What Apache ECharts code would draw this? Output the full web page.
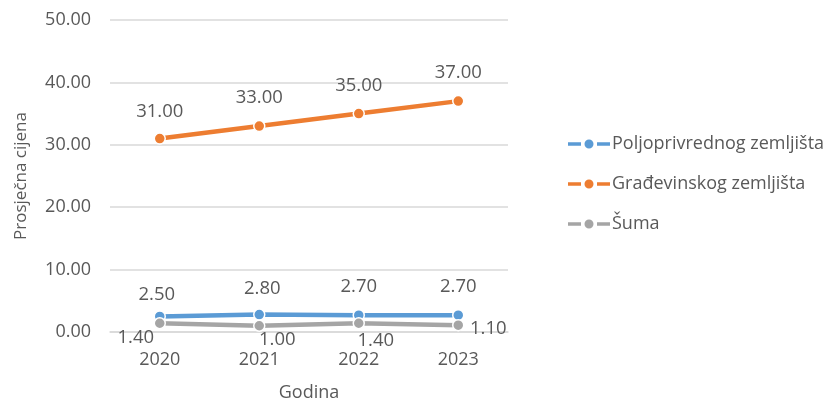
<!DOCTYPE html>
<html>
<head>
<meta charset="utf-8">
<script src="https://cdn.jsdelivr.net/npm/echarts@6/dist/echarts.min.js"></script>
<style>
  html, body { margin: 0; padding: 0; background: #fff; }
  #chart { width: 823px; height: 401px; }
</style>
</head>
<body>
<div id="chart"></div>
<script>
// Average land price by year
const years = ['2020', '2021', '2022', '2023'];
const poljoprivredno = [2.5, 2.8, 2.7, 2.7];
const gradjevinsko = [31, 33, 35, 37];
const suma = [1.4, 1.0, 1.4, 1.1];
const seriesNames = ['Poljoprivrednog zemljišta', 'Građevinskog zemljišta', 'Šuma'];
const colors = ['#5B9BD5', '#ED7D31', '#A5A5A5'];

// label placement (pixel offsets from each marker)
const labelOffsets = [
  [[-3, -22], [3, -26], [0, -28], [0, -28]],
  [[0, -27], [0, -28], [0, -28], [0, -28]],
  [[-24, 14], [18, 14], [17, 17], [30, 4]]
];

// legend glyph: dash, dot, dash
const legendIcon = 'path://M0,2.75h13v3.5h-13Z M16.5,4.5a4.5,4.5 0 1,0 9,0a4.5,4.5 0 1,0 -9,0Z M29,2.75h13v3.5h-13Z';

const font = 'Open Sans, Lato, sans-serif';
const textColor = '#595959';

function buildSeries(values, idx) {
  return {
    name: seriesNames[idx],
    type: 'line',
    data: values.map((v, i) => ({
      value: v,
      label: { offset: labelOffsets[idx][i] }
    })),
    symbol: 'circle',
    symbolSize: 11,
    lineStyle: { width: 4.5, color: colors[idx] },
    itemStyle: { color: colors[idx], borderColor: '#fff', borderWidth: 1.5 },
    label: {
      show: true,
      position: 'inside',
      color: textColor,
      fontFamily: font,
      fontSize: 18.5,
      formatter: p => Number(p.value).toFixed(2)
    },
    emphasis: { disabled: true },
    animation: false
  };
}

const chart = echarts.init(document.getElementById('chart'), null, { renderer: 'canvas' });
chart.setOption({
  backgroundColor: '#fff',
  animation: false,
  grid: { left: 110, right: 315, top: 20, bottom: 69, containLabel: false, outerBoundsMode: 'none' },
  legend: {
    orient: 'vertical',
    left: 563,
    top: 129,
    itemWidth: 42,
    itemHeight: 14,
    itemGap: 20,
    itemStyle: { borderWidth: 0 },
    textStyle: { color: textColor, fontFamily: font, fontSize: 18, lineHeight: 20, padding: [0, 0, 0, -3] },
    data: seriesNames.map(n => ({ name: n, icon: legendIcon }))
  },
  xAxis: {
    type: 'category',
    data: years,
    boundaryGap: true,
    name: 'Godina',
    nameLocation: 'middle',
    nameGap: 52,
    nameTextStyle: { color: textColor, fontFamily: font, fontSize: 18 },
    axisLine: { lineStyle: { color: '#D9D9D9', width: 1.5 } },
    axisTick: { show: false },
    axisLabel: { color: textColor, fontFamily: font, fontSize: 18, margin: 19 }
  },
  yAxis: {
    type: 'value',
    min: 0,
    max: 50,
    interval: 10,
    name: 'Prosječna cijena',
    nameLocation: 'middle',
    nameRotate: 90,
    nameGap: 80,
    nameTextStyle: { color: textColor, fontFamily: font, fontSize: 17 },
    axisLine: { show: false },
    axisTick: { show: false },
    splitLine: { lineStyle: { color: '#D9D9D9', width: 1.5 } },
    axisLabel: {
      color: textColor, fontFamily: font, fontSize: 18, margin: 19,
      formatter: v => v.toFixed(2)
    }
  },
  series: [
    buildSeries(poljoprivredno, 0),
    buildSeries(gradjevinsko, 1),
    buildSeries(suma, 2)
  ]
});
</script>
</body>
</html>
